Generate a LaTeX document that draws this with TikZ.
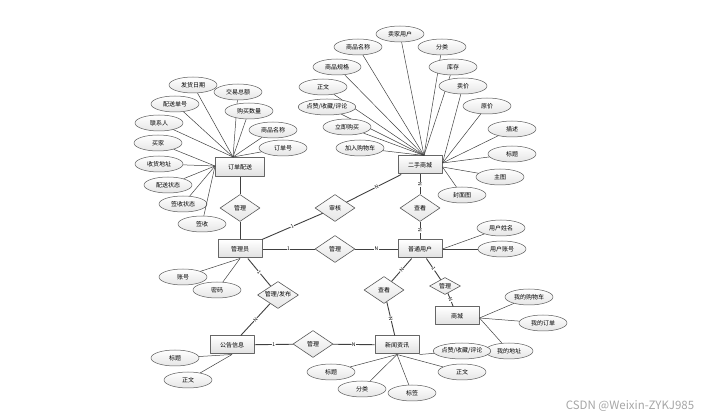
\documentclass[tikz,border=0pt]{standalone}
\usepackage{fontspec}
\setmainfont{Noto Sans CJK SC}
\usetikzlibrary{shapes.geometric}
\tikzset{
  ent/.style={draw=black!60, line width=1pt, top color=white, bottom color=black!12,
    minimum width=44pt, minimum height=18pt, inner sep=0pt},
  attr/.style={ellipse, draw=black!65, line width=0.5pt, top color=white, bottom color=black!10,
    minimum width=48pt, minimum height=16pt, inner sep=0pt},
  rel/.style={diamond, aspect=1.5, draw=black!65, line width=0.6pt, top color=white,
    bottom color=black!10, minimum width=40pt, minimum height=27pt, inner sep=0pt},
  card/.style={fill=white, inner sep=0.4pt, sloped, font=\fontsize{5}{5}\selectfont},
  lk/.style={draw=black!75, line width=0.9pt},
  al/.style={draw=black!75, line width=0.5pt},
}
\begin{document}
\begin{tikzpicture}[x=1pt,y=-1pt,line join=round,font=\fontsize{6}{7}\selectfont]
  \useasboundingbox (0,0) rectangle (715,419);
  % entities
  \node[ent] (sc) at (420,165) {二手商城};
  \node[ent, minimum width=49pt, minimum height=19pt] (dd) at (240,167) {订单配送};
  \node[ent] (gly) at (240,249) {管理员};
  \node[ent] (yh) at (420,249) {普通用户};
  \node[ent] (gg) at (232,345) {公告信息};
  \node[ent] (xw) at (397,345) {新闻资讯};
  \node[ent] (shc) at (457,316) {商城};
  % relations
  \node[rel] (r1) at (240,208) {管理};
  \node[rel] (r2) at (335,208) {审核};
  \node[rel] (r3) at (335,249) {管理};
  \node[rel] (r4) at (420,208) {查看};
  \node[rel, minimum width=41pt] (r5) at (278,295) {管理/发布};
  \node[rel] (r6) at (384,290) {查看};
  \node[rel, minimum width=31pt, minimum height=17pt] (r7) at (445,286) {管理};
  \node[rel] (r8) at (313,344) {管理};
  % attributes of 二手商城
  \foreach \x/\y/\t [count=\i] in {400/34/卖家用户, 358/47/商品名称, 442/47/分类,
      337/67/商品规格, 453/67/库存, 323/87/正文, 327/107/{点赞/收藏/评论},
      347/127/立即购买, 360/148/加入购物车} {
      \node[attr] (sa\i) at (\x,\y) {\t};
      \draw[al] (sa\i) -- ([xshift=4pt]sc.north);
    }
  \foreach \x/\y/\t [count=\i] in {463/86/卖价, 487/106/原价, 512/129/描述, 512/154/标题} {
      \node[attr] (sb\i) at (\x,\y) {\t};
      \draw[al] (sb\i) -- ([yshift=2pt]sc.east);
    }
  \foreach \x/\y/\t [count=\i] in {500/177/主图, 462/195/封面图} {
      \node[attr] (sd\i) at (\x,\y) {\t};
      \draw[al] (sd\i) -- ([yshift=-2pt]sc.east);
    }
  % attributes of 订单配送
  \foreach \x/\y/\t [count=\i] in {193/85/发货日期, 238/92/交易总额, 175/104/配送单号,
      249/111/购买数量, 159/123/联系人, 273/130/商品名称, 283/148/订单号} {
      \node[attr] (da\i) at (\x,\y) {\t};
      \draw[al] (da\i) -- ([xshift=-7pt]dd.north);
    }
  \foreach \x/\y/\t [count=\i] in {158/143/买家, 159/164/收货地址, 168/185/配送状态,
      183/204/签收状态, 202/224/签收} {
      \node[attr] (db\i) at (\x,\y) {\t};
      \draw[al] (db\i) -- ([yshift=1pt]dd.west);
    }
  % attributes of 管理员, 普通用户, 商城
  \foreach \x/\y/\t [count=\i] in {183/277/账号, 217/290/密码} {
      \node[attr] (ga\i) at (\x,\y) {\t};
      \draw[al] (ga\i) -- (gly.south);
    }
  \foreach \x/\y/\t [count=\i] in {501/228/用户姓名, 502/249/用户账号} {
      \node[attr] (ya\i) at (\x,\y) {\t};
      \draw[al] (ya\i) -- (yh.east);
    }
  \foreach \x/\y/\t [count=\i] in {529/297/我的购物车, 543/323/我的订单, 509/351/我的地址} {
      \node[attr] (ha\i) at (\x,\y) {\t};
      \draw[al] (ha\i) -- ([yshift=-2pt]shc.east);
    }
  % attributes of 公告信息, 新闻资讯
  \foreach \x/\y/\t [count=\i] in {175/358/标题, 188/380/正文} {
      \node[attr] (ka\i) at (\x,\y) {\t};
      \draw[al] (ka\i) -- (gg.south);
    }
  \foreach \x/\y/\t [count=\i] in {331/372/标题, 362/389/分类, 412/393/标签, 462/372/正文} {
      \node[attr] (xa\i) at (\x,\y) {\t};
      \draw[al] (xa\i) -- (xw.south);
    }
  \node[attr] (xb) at (462,351) {点赞/收藏/评论};
  \draw[al] (xb) -- (xw.south east);
  % relationships
  \draw[lk] (dd) -- (r1) -- (gly);
  \draw[lk] (gly) -- node[card]{1} (r2);
  \draw[lk] (r2) -- node[card,pos=0.55]{N} (sc);
  \draw[lk] (sc) -- node[card]{N} (r4);
  \draw[lk] (r4) -- node[card]{N} (yh);
  \draw[lk] (gly) -- node[card]{1} (r3);
  \draw[lk] (r3) -- node[card]{N} (yh);
  \draw[lk] (gly) -- node[card]{1} (r5);
  \draw[lk] (r5) -- node[card]{N} (gg);
  \draw[lk] (yh) -- node[card]{N} (r6);
  \draw[lk] (r6) -- node[card]{N} (xw);
  \draw[lk] (yh) -- node[card]{1} (r7);
  \draw[lk] (r7) -- node[card]{N} (shc);
  \draw[lk] (gg) -- node[card]{1} (r8);
  \draw[lk] (r8) -- node[card]{N} (xw);
  \node[text=black!35, font=\fontsize{11.5}{12}\selectfont] (wm) at (630,406) {CSDN @Weixin-ZYKJ985};
\end{tikzpicture}
\end{document}
